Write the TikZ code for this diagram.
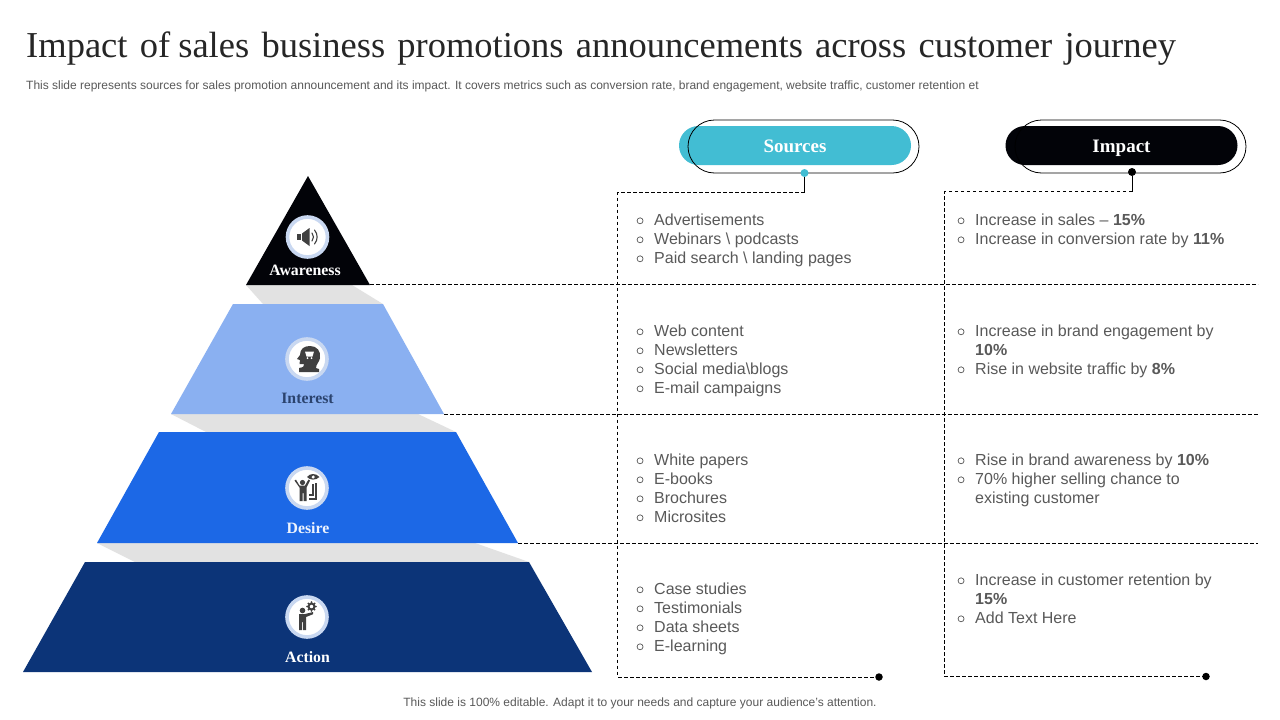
\documentclass[tikz,border=0pt]{standalone}
\usepackage{fontspec}
\setmainfont{Liberation Sans}
\newfontfamily\serifface{Liberation Serif}
\definecolor{bodygray}{HTML}{595959}
\definecolor{titleink}{HTML}{262626}
\definecolor{icongray}{HTML}{404040}
\definecolor{ringblue}{HTML}{C9D8F1}
\definecolor{shadegray}{HTML}{E2E2E2}
\definecolor{lvlone}{HTML}{020308}
\definecolor{lvltwo}{HTML}{8AB0F1}
\definecolor{lvlthree}{HTML}{1C68E6}
\definecolor{lvlfour}{HTML}{0C3478}
\definecolor{teal}{HTML}{42BDD3}
\definecolor{interestink}{HTML}{2B436E}
\newcommand{\bul}{\makebox[19pt][l]{\hspace*{1.5pt}\raisebox{5pt}{\tikz[baseline]\draw[bodygray,line width=.7pt] (0,0) circle (3pt);}}}
\newcommand{\itm}[1]{\bul #1}
\newcommand{\cont}[1]{\hspace*{19pt}#1}
\tikzset{
  x=1pt,y=-1pt,
  cell/.style={anchor=north west,align=left,inner sep=0pt,text=bodygray,
    font=\fontsize{16}{19}\selectfont},
  lvl/.style={font=\serifface\bfseries\fontsize{15.8}{17}\selectfont,inner sep=0pt},
  rule/.style={black,line width=.8pt,dash pattern=on 3.5pt off 2.5pt},
  pillfill/.style={minimum width=232pt,minimum height=39pt,rounded corners=19.5pt,inner sep=0pt,text=white,
    text height=13pt,text depth=0pt,
    font=\serifface\bfseries\fontsize{19}{21}\selectfont},
  pillline/.style={draw=black,line width=.8pt,minimum width=231pt,minimum height=53pt,rounded corners=26.5pt,inner sep=0pt},
  dotn/.style={circle,inner sep=0pt,minimum size=#1},
  ringn/.style={circle,fill=white,draw=ringblue,line width=3.6pt,minimum size=40pt,inner sep=0pt},
  ico/.style={fill=icongray,draw=none},
  icoline/.style={draw=icongray,line width=1.1pt,fill=none},
}
\begin{document}
\begin{tikzpicture}
\useasboundingbox (0,0) rectangle (1280,720);
\fill[white] (0,0) rectangle (1280,720);

% title block
\node[anchor=base west,inner sep=0pt,text=titleink,font=\serifface\fontsize{36.5}{40}\selectfont] (title) at (26,57)
  {\spaceskip=12.2pt Impact of\hspace{-4pt} sales business promotions announcements across customer journey};
\node[anchor=base west,inner sep=0pt,text=bodygray,font=\fontsize{12}{14}\selectfont] (subtitle) at (26,89)
  {\spaceskip=3.3pt This slide represents sources for sales promotion announcement and its impact. It covers metrics such as conversion rate, brand engagement, website traffic, customer retention et};
\node[anchor=base,inner sep=0pt,text=bodygray,font=\fontsize{12}{14}\selectfont] (footer) at (640,706)
  {This slide is 100\% editable. Adapt it to your needs and capture your audience's attention.};

% pyramid shadows
\fill[shadegray] (246,285) -- (352,285) -- (383,304) -- (263,304) -- cycle;
\fill[shadegray] (171,414) -- (418,414) -- (456,432) -- (206,432) -- cycle;
\fill[shadegray] (97,543) -- (475,543) -- (529,562) -- (135,562) -- cycle;
% pyramid levels
\fill[lvlone] (308,176) -- (370,285) -- (246,285) -- cycle;
\fill[lvltwo] (233,304) -- (383,304) -- (444,414) -- (171,414) -- cycle;
\fill[lvlthree] (159,432) -- (456,432) -- (518,543) -- (97,543) -- cycle;
\fill[lvlfour] (85,562) -- (529,562) -- (592,672) -- (23,672) -- cycle;

% dashed grid anchors
\coordinate (rowa) at (370,284.5);
\coordinate (rowb) at (444,414.5);
\coordinate (rowc) at (518,543.5);
\coordinate (rowaend) at (1258,284.5);
\coordinate (rowbend) at (1258,414.5);
\coordinate (rowcend) at (1258,543.5);
\coordinate (srcjoin) at (804.5,192.5);
\coordinate (srctop) at (617.5,192.5);
\coordinate (srcbot) at (617.5,677);
\coordinate (impjoin) at (1132,191.5);
\coordinate (imptop) at (944.5,191.5);
\coordinate (impbot) at (944.5,676.5);

% header pills
\node[pillfill,fill=teal] (srcpill) at (795,145.5) {Sources};
\node[pillline] (srcring) at (803.5,146.5) {};
\node[pillfill,fill=lvlone] (imppill) at (1121.5,145.5) {Impact};
\node[pillline] (impring) at (1130.5,146.5) {};
\node[dotn=8pt,fill=teal] (srcdot) at (804.5,173) {};
\node[dotn=8pt,fill=black] (impdot) at (1132,172) {};
\node[dotn=7.5pt,fill=black] (srcend) at (879,677) {};
\node[dotn=7.5pt,fill=black] (impend) at (1206,676.5) {};

% connectors
\draw[black,line width=.8pt] (srcdot) -- (srcjoin);
\draw[black,line width=.8pt] (impdot) -- (impjoin);
\draw[rule] (srcjoin) -- (srctop) -- (srcbot) -- (srcend);
\draw[rule] (impjoin) -- (imptop) -- (impbot) -- (impend);
\draw[rule] (rowa) -- (rowaend);
\draw[rule] (rowb) -- (rowbend);
\draw[rule] (rowc) -- (rowcend);

% sources
\node[cell] (sa) at (635,214) {\itm{Advertisements}\\\itm{Webinars \textbackslash\ podcasts}\\\itm{Paid search \textbackslash\ landing pages}};
\node[cell] (sb) at (635,325) {\itm{Web content}\\\itm{Newsletters}\\\itm{Social media\textbackslash blogs}\\\itm{E-mail campaigns}};
\node[cell] (sc) at (635,454) {\itm{White papers}\\\itm{E-books}\\\itm{Brochures}\\\itm{Microsites}};
\node[cell] (sd) at (635,583) {\itm{Case studies}\\\itm{Testimonials}\\\itm{Data sheets}\\\itm{E-learning}};
% impact
\node[cell] (ia) at (956,214) {\itm{Increase in sales – \textbf{15\%}}\\\itm{Increase in conversion rate by \textbf{11\%}}};
\node[cell] (ib) at (956,325) {\itm{Increase in brand engagement by}\\\cont{\textbf{10\%}}\\\itm{Rise in website traffic by \textbf{8\%}}};
\node[cell] (ic) at (956,454) {\itm{Rise in brand awareness by \textbf{10\%}}\\\itm{70\% higher selling chance to}\\\cont{existing customer}};
\node[cell] (id) at (956,574) {\itm{Increase in customer retention by}\\\cont{\textbf{15\%}}\\\itm{Add Text Here}};

% level labels
\node[lvl,text=white,anchor=base] (awl) at (305,275) {Awareness};
\node[lvl,text=interestink,anchor=base] (inl) at (307.5,403) {Interest};
\node[lvl,text=white!85!lvltwo,anchor=base] (del) at (308,533) {Desire};
\node[lvl,text=white,anchor=base] (acl) at (307.5,662) {Action};

% icon rings
\node[ringn] (iconaw) at (307.5,237) {};
\node[ringn] (iconin) at (307,359) {};
\node[ringn] (iconde) at (307,488) {};
\node[ringn] (iconac) at (307,617) {};

% speaker
\begin{scope}[shift={(307.5,237)}]
  \fill[ico] (-10.5,-3) rectangle (-6.5,3);
  \fill[ico] (-5.5,-3.5) -- (2,-9) -- (2,9) -- (-5.5,3.5) -- cycle;
  \draw[icoline,line cap=round] (4.5,-4) .. controls (6.5,-1.5) and (6.5,1.5) .. (4.5,4);
  \draw[icoline,line cap=round] (7,-7) .. controls (10.5,-3) and (10.5,3) .. (7,7);
\end{scope}
% head with cart
\begin{scope}[shift={(307,359)}]
  \fill[ico] (-8,13) -- (-8,9) .. controls (-4,8.5) and (-2,7) .. (-3,5)
    -- (-7.5,5) -- (-7,1) -- (-10,0) -- (-7,-4)
    .. controls (-7,-10) and (-3,-13) .. (3,-13)
    .. controls (10,-13) and (14,-8) .. (13,-1)
    .. controls (12.5,3) and (9,5) .. (9,9) -- (12,10) -- (12,13) -- cycle;
  \fill[white] (-2,-7.5) -- (7,-7.5) -- (5.5,-2.5) -- (-0.5,-2.5) -- cycle;
  \fill[white] (0.5,-0.8) circle (1); \fill[white] (4.5,-0.8) circle (1);
\end{scope}
% person, eye and chair
\begin{scope}[shift={(307,488)}]
  \fill[ico] (-4.5,-5.5) circle (2.6);
  \fill[ico] (-12.5,-7.5) -- (-11,-8.3) -- (-7.5,-2.5) -- (-2,-2.5) -- (1.5,-8.5) -- (3,-7.5) -- (-0.5,-0.5) -- (-0.5,13) -- (-3.5,13) -- (-3.5,5) -- (-4.5,5) -- (-4.5,13) -- (-7.5,13) -- (-7.5,-0.5) -- cycle;
  \fill[ico] (0,-11) .. controls (3,-15) and (9,-15) .. (12.5,-11) .. controls (9,-7.5) and (3,-7.5) .. (0,-11) -- cycle;
  \fill[white] (6.2,-11) circle (1.7);
  \fill[ico] (8,-5) rectangle (10,12);
  \fill[ico] (2,10) rectangle (10,12);
  \fill[ico] (5,-4) rectangle (6.8,7.5);
  \fill[ico] (2,5.7) rectangle (6.8,7.5);
\end{scope}
% person and gear
\begin{scope}[shift={(307,617)}]
  \fill[ico] (-4.5,-6.5) circle (2.8);
  \fill[ico] (-8,-3) -- (-2,-3) -- (6,-5) -- (6,-2.8) -- (-1,0) -- (-1,13) -- (-4,13) -- (-4,5) -- (-5,5) -- (-5,13) -- (-8,13) -- cycle;
  \draw[draw=icongray,line width=2pt,fill=white] (4.5,-10.5) circle (3);
  \foreach \a in {0,45,...,315}
    \fill[ico] ([shift={(\a:4.3)}]4.5,-10.5) circle (1);
\end{scope}
\end{tikzpicture}
\end{document}
